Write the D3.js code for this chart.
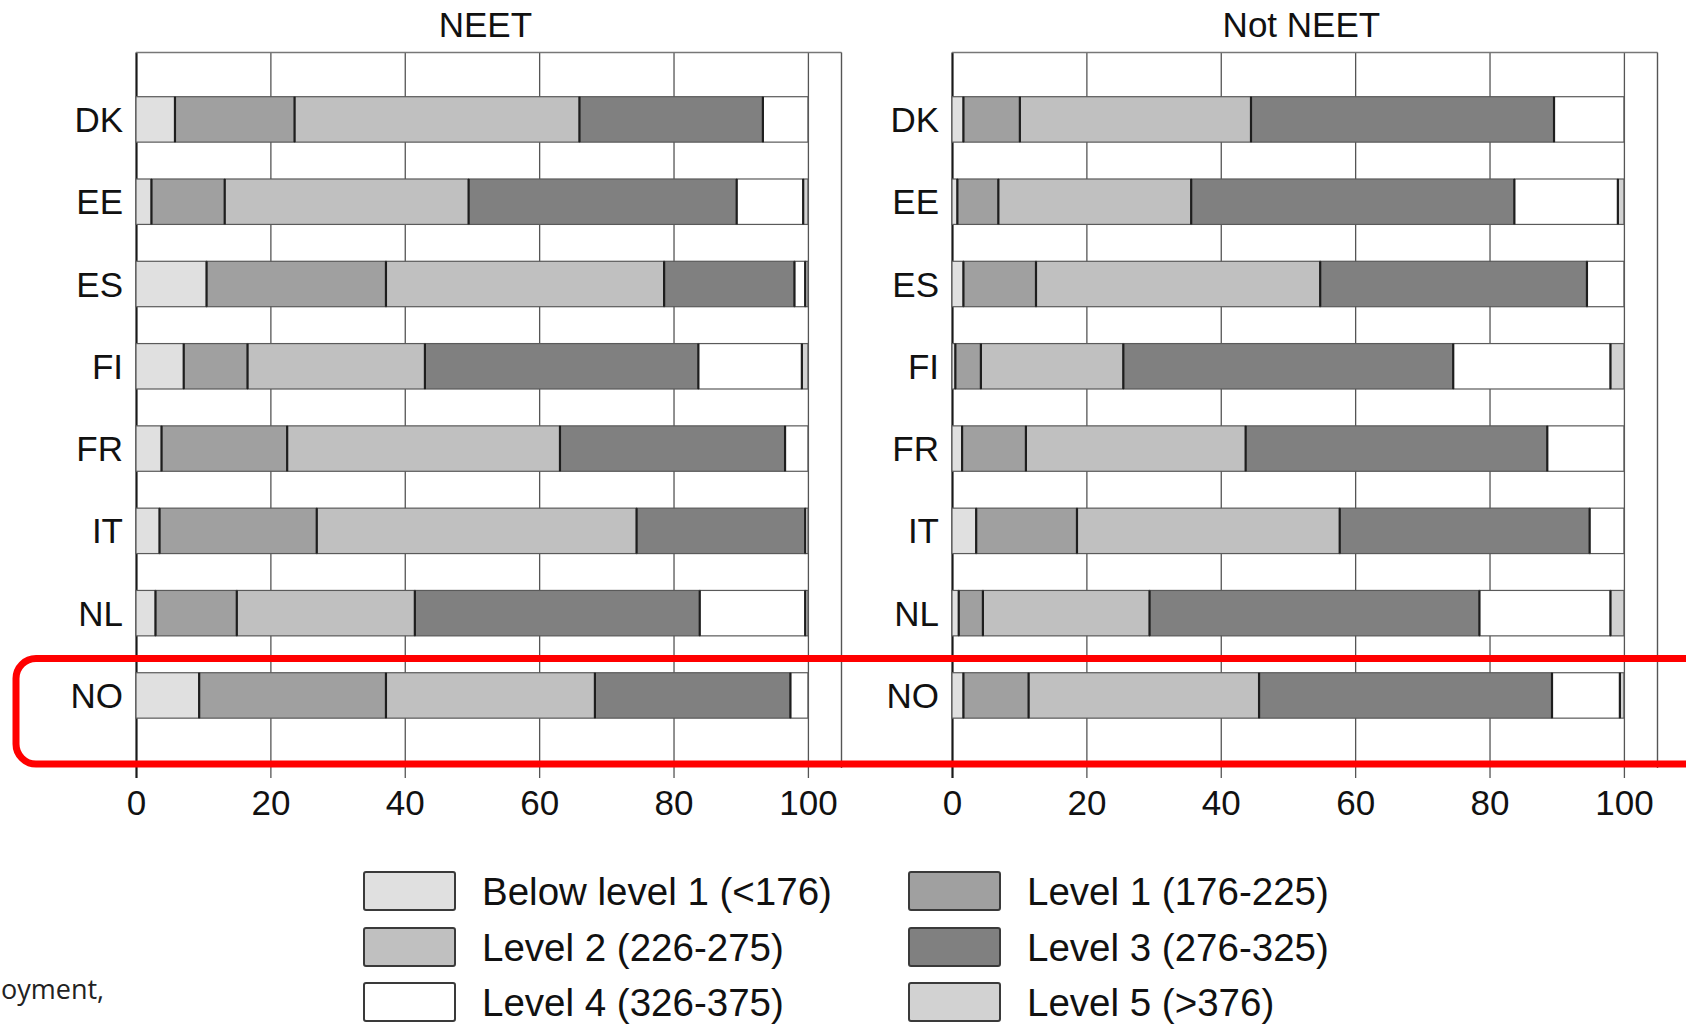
<!DOCTYPE html>
<html>
<head>
<meta charset="utf-8">
<script src="https://cdn.jsdelivr.net/npm/d3@7"></script>
<style>
  body { margin: 0; background: #fff; }
  svg { display: block; font-family: "Liberation Sans", Arial, sans-serif; }
</style>
</head>
<body>
<svg width="1686" height="1025"></svg>
<script>
// categories and levels
const countries = ["DK", "EE", "ES", "FI", "FR", "IT", "NL", "NO"];
const levelKeys = ["below1", "level1", "level2", "level3", "level4", "level5"];
const levelNames = [
  "Below level 1 (<176)",
  "Level 1 (176-225)",
  "Level 2 (226-275)",
  "Level 3 (276-325)",
  "Level 4 (326-375)",
  "Level 5 (>376)",
];
const levelColors = ["#e0e0e0", "#a0a0a0", "#c0c0c0", "#808080", "#ffffff", "#d2d2d2"];
const xTicks = [0, 20, 40, 60, 80, 100];

// NEET shares (%) per level, in country order
const neetBelow1 = [5.8, 2.3, 10.5, 7.1, 3.8, 3.5, 2.9, 9.4];
const neetLevel1 = [17.8, 10.9, 26.7, 9.5, 18.7, 23.4, 12.1, 27.8];
const neetLevel2 = [42.4, 36.3, 41.4, 26.4, 40.6, 47.6, 26.5, 31.1];
const neetLevel3 = [27.3, 39.9, 19.4, 40.7, 33.5, 25.1, 42.4, 29.1];
const neetLevel4 = [6.7, 9.9, 1.6, 15.4, 3.4, 0.4, 15.7, 2.6];
const neetLevel5 = [0, 0.7, 0.4, 0.9, 0, 0, 0.4, 0];

// Not NEET shares (%) per level
const notNeetBelow1 = [1.7, 0.8, 1.7, 0.5, 1.5, 3.6, 1.0, 1.7];
const notNeetLevel1 = [8.4, 6.1, 10.8, 3.8, 9.5, 15.0, 3.6, 9.7];
const notNeetLevel2 = [34.4, 28.7, 42.3, 21.2, 32.7, 39.1, 24.8, 34.3];
const notNeetLevel3 = [45.1, 48.1, 39.7, 49.1, 44.9, 37.2, 49.1, 43.6];
const notNeetLevel4 = [10.4, 15.4, 5.5, 23.4, 11.4, 5.1, 19.5, 10.1];
const notNeetLevel5 = [0, 0.9, 0, 2.0, 0, 0, 2.0, 0.6];

const buildRows = (series) =>
  countries.map((c, i) => {
    const row = { country: c };
    levelKeys.forEach((k, j) => (row[k] = series[j][i]));
    return row;
  });

const neetRows = buildRows([neetBelow1, neetLevel1, neetLevel2, neetLevel3, neetLevel4, neetLevel5]);
const notNeetRows = buildRows([notNeetBelow1, notNeetLevel1, notNeetLevel2, notNeetLevel3, notNeetLevel4, notNeetLevel5]);

const svg = d3.select("svg");
const plotTop = 52.5;
const plotBottom = 768;
const panelWidth = 705.5;
const color = d3.scaleOrdinal().domain(levelKeys).range(levelColors);
const stack = d3.stack().keys(levelKeys);

const y = d3
  .scaleBand()
  .domain(countries)
  .range([plotTop, plotBottom])
  .paddingInner(0.448)
  .paddingOuter(0.5715)
  .align(0.47);

const drawPanel = (title, rows, left) => {
  const x = d3.scaleLinear().domain([0, 105]).range([left, left + panelWidth]);
  const g = svg.append("g");

  // grid lines + tick labels
  const xAxisG = g
    .append("g")
    .attr("transform", `translate(0, ${plotBottom})`)
    .call(
      d3
        .axisBottom(x)
        .tickValues(xTicks)
        .tickSizeInner(-(plotBottom - plotTop))
        .tickSizeOuter(0)
        .tickPadding(22)
    );
  xAxisG.select(".domain").remove();
  xAxisG
    .selectAll(".tick line")
    .attr("y1", 10)
    .attr("stroke", (d) => (d === 0 ? "#1a1a1a" : "#555"))
    .attr("stroke-width", (d) => (d === 0 ? 2.2 : 1.3));
  xAxisG
    .selectAll(".tick text")
    .attr("fill", "#111")
    .style("font-size", "35px")
    .style("font-family", '"Liberation Sans", Arial, sans-serif');

  // frame top + right
  g.append("line")
    .attr("x1", x(0))
    .attr("x2", x(105))
    .attr("y1", plotTop)
    .attr("y2", plotTop)
    .attr("stroke", "#777")
    .attr("stroke-width", 1.6);
  g.append("line")
    .attr("x1", x(105))
    .attr("x2", x(105))
    .attr("y1", plotTop)
    .attr("y2", plotBottom)
    .attr("stroke", "#555")
    .attr("stroke-width", 1.4);

  // stacked bars
  const layers = stack(rows);
  g.append("g")
    .selectAll("g")
    .data(layers)
    .enter()
    .append("g")
    .attr("fill", (d) => color(d.key))
    .selectAll("rect")
    .data((d) => d)
    .enter()
    .append("rect")
    .attr("x", (d) => x(d[0]))
    .attr("y", (d) => y(d.data.country))
    .attr("width", (d) => x(d[1]) - x(d[0]))
    .attr("height", y.bandwidth())
    .attr("stroke", "#5a5a5a")
    .attr("stroke-width", 1.2);

  // dark separators between segments
  const seps = [];
  layers.forEach((layer) =>
    layer.forEach((d) => {
      if (d[1] - d[0] > 0 && d[1] < 99.95) seps.push({ v: d[1], c: d.data.country });
    })
  );
  g.append("g")
    .selectAll("line")
    .data(seps)
    .enter()
    .append("line")
    .attr("x1", (d) => x(d.v))
    .attr("x2", (d) => x(d.v))
    .attr("y1", (d) => y(d.c))
    .attr("y2", (d) => y(d.c) + y.bandwidth())
    .attr("stroke", "#1e1e1e")
    .attr("stroke-width", 2.2);

  // country labels
  g.append("g")
    .selectAll("text")
    .data(countries)
    .enter()
    .append("text")
    .attr("x", x(0) - 13)
    .attr("y", (d) => y(d) + y.bandwidth() / 2)
    .attr("dy", "0.36em")
    .attr("text-anchor", "end")
    .attr("fill", "#111")
    .style("font-size", "35px")
    .text((d) => d);

  // panel title
  g.append("text")
    .attr("x", x(52))
    .attr("y", 36.5)
    .attr("text-anchor", "middle")
    .attr("fill", "#111")
    .style("font-size", "35px")
    .text(title);
};

drawPanel("NEET", neetRows, 136);
drawPanel("Not NEET", notNeetRows, 952);

// legend, two columns
const legendCols = [364, 909];
const legendRows = [891, 947, 1002];
const legend = svg
  .append("g")
  .selectAll("g")
  .data(levelKeys)
  .enter()
  .append("g")
  .attr("transform", (d, i) => `translate(${legendCols[i % 2]}, ${legendRows[Math.floor(i / 2)]})`);
legend
  .append("rect")
  .attr("x", 0)
  .attr("y", -19)
  .attr("width", 91)
  .attr("height", 38)
  .attr("rx", 2)
  .attr("fill", (d) => color(d))
  .attr("stroke", "#3a3a3a")
  .attr("stroke-width", 2);
legend
  .append("text")
  .attr("x", 118)
  .attr("dy", "0.36em")
  .attr("fill", "#111")
  .style("font-size", "38.5px")
  .text((d, i) => levelNames[i]);

// highlight box around NO
svg
  .append("rect")
  .attr("x", 16)
  .attr("y", 658.5)
  .attr("width", 1720)
  .attr("height", 105.5)
  .attr("rx", 20)
  .attr("fill", "none")
  .attr("stroke", "#ff0000")
  .attr("stroke-width", 7);

// caption fragment at the bottom left (the visible part of the source line)
svg
  .append("text")
  .attr("x", 1)
  .attr("y", 999)
  .attr("fill", "#222")
  .style("font-family", '"Open Sans", "Noto Sans", sans-serif')
  .style("font-size", "27px")
  .text("oyment,");
</script>
</body>
</html>
